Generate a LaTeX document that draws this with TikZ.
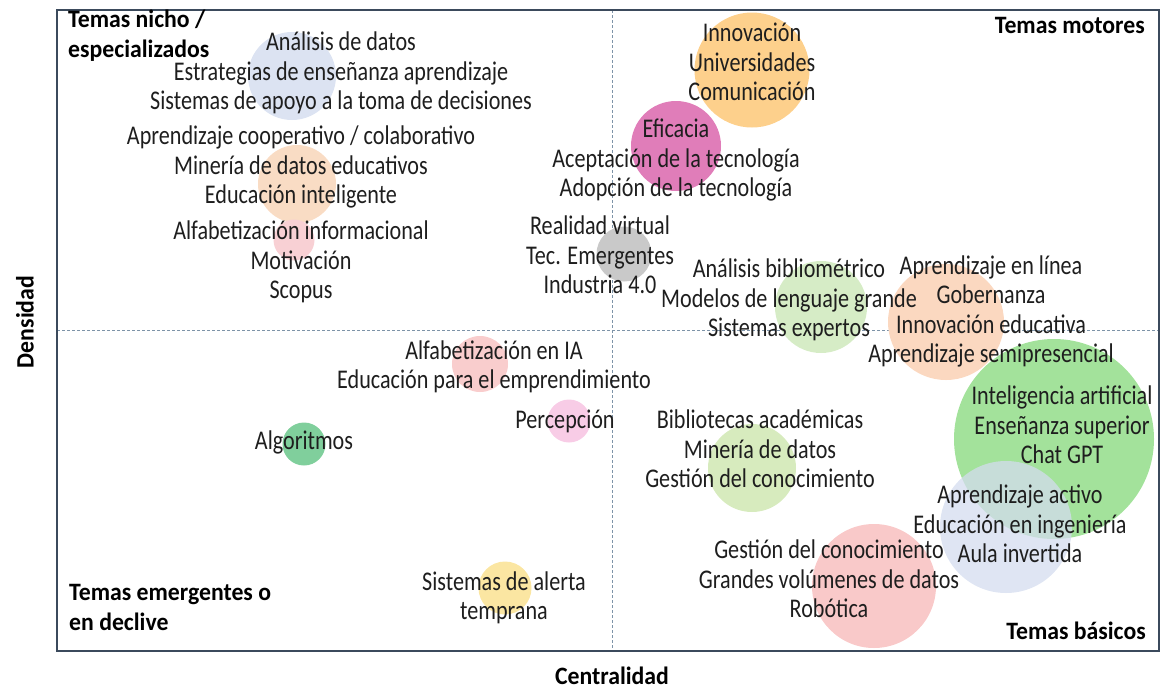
\documentclass[tikz,border=0pt]{standalone}
\usepackage{fontspec}
\setmainfont{Carlito}[FakeStretch=0.82]
\newfontfamily\hdfont{Carlito}[FakeStretch=0.95]
\definecolor{txt}{HTML}{1E1E1E}
\definecolor{framec}{HTML}{3B4A5C}
\definecolor{divc}{HTML}{7D93A8}
\definecolor{cBlueA}{HTML}{DCE3F2}
\definecolor{cOrangeA}{HTML}{F9DCC4}
\definecolor{cPinkA}{HTML}{F8D0D4}
\definecolor{cOrange}{HTML}{FDD08C}
\definecolor{cMagenta}{HTML}{E07DB9}
\definecolor{cGray}{HTML}{C9C9C9}
\definecolor{cGreenA}{HTML}{D6ECC6}
\definecolor{cPeach}{HTML}{FBD8C0}
\definecolor{cGreenBig}{HTML}{A3E29B}
\definecolor{cBlueB}{HTML}{D4DCEF}
\definecolor{cRed}{HTML}{F9C9C9}
\definecolor{cGreenB}{HTML}{D7EBBE}
\definecolor{cPinkB}{HTML}{F9CDCD}
\definecolor{cPinkC}{HTML}{F8CCE6}
\definecolor{cGreenC}{HTML}{80CF9C}
\definecolor{cYellow}{HTML}{FBE6A2}
\tikzset{
  bubble/.style={circle, inner sep=0pt, draw=none, minimum size=#1},
  lbl/.style={align=center, inner sep=0pt, text=txt, font=\fontsize{27}{29.5}\selectfont},
  hdr/.style={align=left, inner sep=0pt, text=black, font=\hdfont\bfseries\fontsize{25}{30}\selectfont},
  axislbl/.style={inner sep=0pt, text=black, font=\hdfont\bfseries\fontsize{25}{30}\selectfont},
  framebox/.style={draw=framec, line width=1.5pt},
  divline/.style={draw=divc, line width=0.8pt, dash pattern=on 3pt off 2pt}
}
\begin{document}
\begin{tikzpicture}[x=1pt,y=-1pt]
\useasboundingbox (0,0) rectangle (1161,691);
% frame and quadrant dividers
\coordinate (tl) at (57,10);
\coordinate (br) at (1159,651);
\coordinate (vt) at (612,10);
\coordinate (vb) at (612,651);
\coordinate (hl) at (57,330);
\coordinate (hr) at (1159,330);
\draw[divline] (vt) -- (vb);
\draw[divline] (hl) -- (hr);
\draw[framebox] (tl) rectangle (br);
% bubbles
\node[bubble=88pt, fill=cBlueA] (bA) at (292,76) {};
\node[bubble=78pt, fill=cOrangeA] (bB) at (297,184) {};
\node[bubble=41pt, fill=cPinkA] (bC) at (294,240) {};
\node[bubble=115pt, fill=cOrange] (bD) at (752,70) {};
\node[bubble=90pt, fill=cMagenta] (bE) at (676,146) {};
\node[bubble=55pt, fill=cGray] (bF) at (624,254) {};
\node[bubble=92pt, fill=cGreenA] (bG) at (821,307) {};
\node[bubble=116pt, fill=cPeach] (bH) at (946,322) {};
\node[bubble=200pt, fill=cGreenBig] (bI) at (1054,439) {};
\node[bubble=132pt, fill=cBlueB, fill opacity=0.75] (bJ) at (1006,527) {};
\node[bubble=124pt, fill=cRed] (bK) at (874,586) {};
\node[bubble=88pt, fill=cGreenB] (bL) at (752,468) {};
\node[bubble=56pt, fill=cPinkB] (bM) at (480,364) {};
\node[bubble=43pt, fill=cPinkC] (bN) at (569,421) {};
\node[bubble=43pt, fill=cGreenC] (bO) at (304,444) {};
\node[bubble=53pt, fill=cYellow] (bP) at (505,588) {};
% labels
\node[lbl] (tA) at (341,73) {Análisis de datos\\Estrategias de enseñanza aprendizaje\\Sistemas de apoyo a la toma de decisiones};
\node[lbl] (tB) at (301,167) {Aprendizaje cooperativo / colaborativo\\Minería de datos educativos\\Educación inteligente};
\node[lbl] (tC) at (301,262) {Alfabetización informacional\\Motivación\\Scopus};
\node[lbl] (tD) at (752,62) {Innovación\\Universidades\\Comunicación};
\node[lbl] (tE) at (676,160) {Eficacia\\Aceptación de la tecnología\\Adopción de la tecnología};
\node[lbl] (tF) at (600,255) {Realidad virtual\\Tec. Emergentes\\Industria 4.0};
\node[lbl] (tG) at (789,300) {Análisis bibliométrico\\Modelos de lenguaje grande\\Sistemas expertos};
\node[lbl] (tH) at (991,311.5) {Aprendizaje en línea\\Gobernanza\\Innovación educativa\\Aprendizaje semipresencial};
\node[lbl] (tI) at (1062,425) {Inteligencia artificial\\Enseñanza superior\\Chat GPT};
\node[lbl] (tJ) at (1020,524) {Aprendizaje activo\\Educación en ingeniería\\Aula invertida};
\node[lbl] (tK) at (829,579) {Gestión del conocimiento\\Grandes volúmenes de datos\\Robótica};
\node[lbl] (tL) at (760,449) {Bibliotecas académicas\\Minería de datos\\Gestión del conocimiento};
\node[lbl] (tM) at (494,367) {Alfabetización en IA\\Educación para el emprendimiento};
\node[lbl] (tN) at (565,421) {Percepción};
\node[lbl] (tO) at (304,442) {Algoritmos};
\node[lbl] (tP) at (504,598) {Sistemas de alerta\\temprana};
% quadrant headers
\node[hdr, anchor=west] (q1) at (68,36) {Temas nicho /\\especializados};
\node[hdr, anchor=east] (q2) at (1145,25) {Temas motores};
\node[hdr, anchor=west] (q3) at (69,607) {Temas emergentes o\\en declive};
\node[hdr, anchor=east] (q4) at (1146,631) {Temas básicos};
% axis titles
\node[axislbl, rotate=90] (ay) at (25,322) {Densidad};
\node[axislbl] (ax) at (612,676) {Centralidad};
\end{tikzpicture}
\end{document}
